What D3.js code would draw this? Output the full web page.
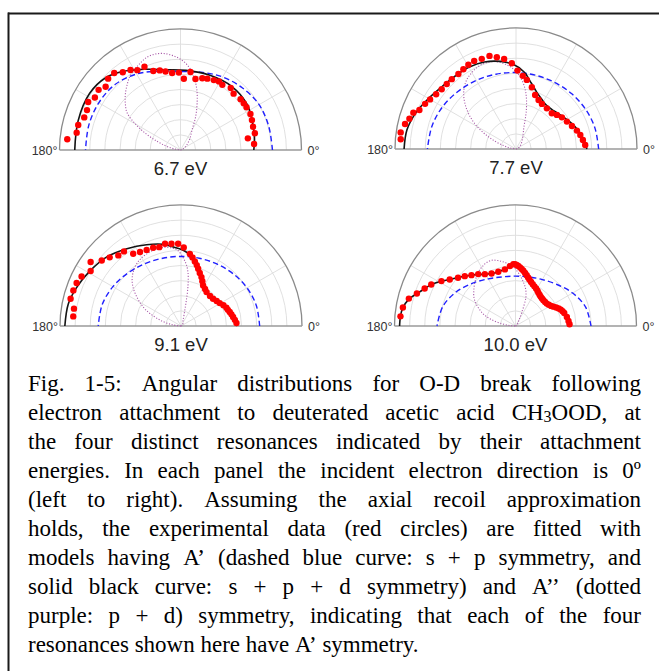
<!DOCTYPE html>
<html>
<head>
<meta charset="utf-8">
<script src="https://cdn.jsdelivr.net/npm/d3@7"></script>
<style>
  html, body { margin: 0; padding: 0; background: #fff; }
  svg { display: block; }
</style>
</head>
<body>
<svg id="fig" width="659" height="671"></svg>
<script>
// ---- angular distributions: [angle in degrees, relative intensity] ----
const energies = ["6.7 eV", "7.7 eV", "9.1 eV", "10.0 eV"];

const dots67 = [[4.7,0.61],[9.8,0.565],[12.7,0.63],[17.8,0.63],[22.7,0.64],[27.2,0.65],[32.9,0.65],[36.4,0.65],[40.2,0.65],[46.7,0.64],[51,0.66],[57.3,0.64],[60.7,0.65],[64.5,0.64],[69.4,0.63],[73.1,0.62],[78.1,0.6],[82.7,0.65],[87.3,0.59],[91.2,0.64],[96.2,0.64],[100.8,0.66],[104.6,0.68],[109,0.69],[113.4,0.75],[118.4,0.75],[122,0.78],[126.6,0.8],[130.7,0.84],[135.4,0.84],[139.8,0.81],[143.7,0.84],[148.5,0.83],[152.5,0.86],[156.9,0.84],[161.3,0.84],[166.3,0.87],[170.5,0.87],[174.6,0.94]];
const black67 = [[0,0.606],[10,0.62],[23,0.642],[35,0.668],[51,0.675],[69,0.663],[86,0.66],[100,0.674],[114,0.73],[127,0.81],[136,0.86],[148,0.885],[164,0.88],[180,0.874]];
const blue67 = [[0,0.76],[15,0.755],[30,0.75],[45,0.725],[60,0.697],[75,0.665],[90,0.648],[105,0.675],[120,0.725],[135,0.765],[150,0.78],[165,0.785],[180,0.785]];
const purple67 = [[0,0],[10,0.01],[20,0.02],[30,0.04],[40,0.07],[50,0.12],[60,0.19],[65,0.29],[70,0.4],[75,0.52],[80,0.62],[85,0.7],[90,0.75],[95,0.785],[100,0.81],[105,0.82],[110,0.815],[115,0.79],[120,0.765],[125,0.735],[130,0.69],[135,0.645],[140,0.595],[145,0.54],[150,0.43],[155,0.31],[160,0.2],[165,0.12],[170,0.05],[180,0]];

const dots77 = [[3.3,0.573],[7.7,0.558],[12.3,0.544],[16.8,0.526],[22.4,0.5],[28.3,0.478],[34.6,0.461],[39.8,0.44],[44.9,0.418],[52.8,0.422],[60.1,0.43],[65.3,0.446],[70.5,0.474],[75.6,0.527],[81.1,0.578],[84.7,0.607],[88.9,0.648],[92.8,0.71],[97.5,0.751],[101.8,0.775],[105.9,0.8],[110.8,0.797],[115.4,0.806],[119.5,0.8],[123.4,0.79],[127.5,0.782],[132.6,0.784],[136.8,0.785],[141.2,0.788],[145.6,0.8],[150,0.82],[153.6,0.839],[158,0.861],[160.5,0.9],[164.1,0.916],[167.3,0.94],[171.8,0.963],[175.2,0.956]];
const black77 = [[0,0.586],[8,0.565],[17,0.535],[25,0.505],[35,0.47],[45,0.445],[55,0.44],[62,0.46],[70,0.5],[77,0.56],[84,0.64],[92,0.7],[100,0.735],[110,0.765],[120,0.78],[130,0.785],[140,0.8],[150,0.835],[160,0.88],[170,0.915],[180,0.925]];
const blue77 = [[0,0.683],[15,0.675],[30,0.662],[45,0.648],[60,0.636],[75,0.631],[90,0.632],[105,0.64],[120,0.655],[135,0.675],[150,0.7],[165,0.72],[180,0.732]];
const purple77 = [[0,0],[20,0.02],[40,0.05],[55,0.09],[65,0.14],[70,0.19],[75,0.33],[80,0.47],[85,0.57],[90,0.64],[95,0.69],[100,0.725],[105,0.748],[110,0.755],[115,0.748],[120,0.73],[125,0.705],[130,0.665],[135,0.61],[140,0.54],[145,0.46],[150,0.37],[155,0.27],[160,0.18],[165,0.1],[170,0.05],[180,0]];

const dots91 = [[3.1,0.459],[6.5,0.448],[9.8,0.437],[13,0.428],[16,0.419],[19,0.41],[22,0.405],[26,0.39],[30.6,0.372],[35,0.36],[40.4,0.348],[46,0.345],[53,0.351],[57,0.365],[61.4,0.382],[64.5,0.41],[67.3,0.438],[70.5,0.465],[73.3,0.494],[75.5,0.52],[77.9,0.546],[80.5,0.575],[83,0.6],[88,0.65],[92,0.68],[96.6,0.684],[101,0.692],[105.4,0.676],[109.6,0.686],[114.3,0.69],[119,0.699],[123.5,0.716],[127.4,0.776],[131.6,0.78],[136.1,0.818],[140.4,0.85],[144.7,0.915],[148.7,0.874],[153.5,0.918],[157.6,0.933],[161.7,0.937],[166.1,0.94],[170.8,0.896],[174.9,0.894]];
const black91 = [[0,0.462],[10,0.437],[20,0.41],[30,0.376],[40,0.352],[50,0.348],[57,0.366],[63,0.4],[68,0.445],[73,0.493],[78,0.546],[83,0.595],[88,0.625],[93,0.645],[102,0.69],[113,0.73],[125,0.78],[137,0.838],[149,0.88],[160,0.92],[169,0.949],[180,0.96]];
const blue91 = [[0,0.65],[15,0.645],[30,0.63],[45,0.61],[60,0.592],[75,0.58],[90,0.575],[105,0.58],[120,0.595],[135,0.62],[150,0.65],[165,0.675],[180,0.684]];
const purple91 = [[0,0],[20,0.01],[40,0.02],[60,0.03],[70,0.05],[75,0.1],[78,0.2],[80,0.33],[83,0.46],[87,0.545],[93,0.63],[100,0.66],[107,0.668],[115,0.66],[122,0.645],[128,0.618],[135,0.57],[141,0.51],[148,0.42],[154,0.34],[158,0.277],[165,0.17],[172,0.07],[180,0]];

const dots100 = [[1.8,0.447],[5.4,0.44],[10,0.431],[15,0.417],[17.5,0.408],[19.9,0.398],[22,0.385],[24.4,0.369],[27,0.352],[29.4,0.338],[32.5,0.326],[35.6,0.318],[39,0.315],[42.7,0.314],[46,0.316],[49,0.319],[52,0.325],[55.3,0.333],[58,0.343],[61.2,0.353],[64.5,0.363],[67.6,0.374],[70.5,0.386],[73.4,0.401],[75.5,0.415],[77.6,0.43],[79.8,0.446],[81.9,0.461],[83.8,0.474],[85.6,0.486],[87.3,0.496],[88.9,0.504],[90.5,0.51],[92,0.512],[95.3,0.497],[100.6,0.476],[107.6,0.47],[114.5,0.477],[120.6,0.498],[125.7,0.528],[130.9,0.556],[135.5,0.588],[140,0.62],[144.7,0.666],[148.8,0.716],[153.8,0.776],[157.6,0.812],[161.8,0.858],[165.6,0.91],[170.7,0.943],[175.2,0.954]];
const black100 = [[0,0.447],[5,0.44],[10,0.43],[15,0.415],[20,0.396],[25,0.366],[30,0.337],[36,0.318],[43,0.312],[50,0.318],[56,0.333],[62,0.353],[68,0.374],[74,0.403],[78,0.432],[82,0.462],[86,0.488],[89,0.504],[92,0.51],[96,0.495],[101,0.478],[108,0.47],[115,0.478],[121,0.498],[126,0.527],[131,0.556],[136,0.591],[140,0.622],[145,0.668],[149,0.717],[154,0.777],[158,0.815],[162,0.86],[166,0.91],[171,0.944],[175,0.954],[180,0.958]];
const blue100 = [[0,0.624],[15,0.6],[30,0.545],[45,0.485],[60,0.443],[75,0.42],[90,0.412],[105,0.42],[120,0.45],[135,0.5],[150,0.565],[165,0.622],[180,0.649]];
const purple100 = [[0,0],[30,0.01],[50,0.03],[60,0.06],[65,0.12],[70,0.25],[75,0.32],[80,0.37],[85,0.42],[90,0.47],[95,0.51],[100,0.535],[105,0.56],[110,0.578],[115,0.575],[120,0.56],[125,0.54],[130,0.51],[135,0.48],[140,0.45],[145,0.42],[150,0.38],[155,0.33],[160,0.28],[165,0.21],[170,0.12],[175,0.05],[180,0]];

const ringLevels = [0.125, 0.25, 0.375, 0.5, 0.625, 0.75, 0.875];
const spokeAngles = [30, 60, 90, 120, 150];
const angleTicks = [{deg: 180, label: "180°"}, {deg: 0, label: "0°"}];

const captionLines = [
  "Fig. 1-5: Angular distributions for O-D break following",
  "electron attachment to deuterated acetic acid CH_3OOD, at",
  "the four distinct resonances indicated by their attachment",
  "energies. In each panel the incident electron direction is 0º",
  "(left to right). Assuming the axial recoil approximation",
  "holds, the experimental data (red circles) are fitted with",
  "models having A’ (dashed blue curve: s + p symmetry, and",
  "solid black curve: s + p + d symmetry) and A’’ (dotted",
  "purple: p + d) symmetry, indicating that each of the four",
  "resonances shown here have A’ symmetry."
];

const panels = [
  {label: energies[0], cx: 180.5, cy: 150, dots: dots67, black: black67, blue: blue67, purple: purple67},
  {label: energies[1], cx: 516, cy: 149, dots: dots77, black: black77, blue: blue77, purple: purple77},
  {label: energies[2], cx: 181, cy: 326, dots: dots91, black: black91, blue: blue91, purple: purple91},
  {label: energies[3], cx: 515.5, cy: 326, dots: dots100, black: black100, blue: blue100, purple: purple100}
];

const R = 121;
const svg = d3.select("#fig");
const rad = d => d * Math.PI / 180;

// frame
svg.append("line").attr("x1", 8).attr("x2", 659).attr("y1", 13.5).attr("y2", 13.5)
  .attr("stroke", "#1a1a1a").attr("stroke-width", 2);
svg.append("line").attr("x1", 8.5).attr("x2", 8.5).attr("y1", 12.5).attr("y2", 671)
  .attr("stroke", "#1a1a1a").attr("stroke-width", 2);

const r = d3.scaleLinear().domain([0, 1]).range([0, R]);
const radial = d3.lineRadial()
  .angle(d => rad(90 - d[0]))
  .radius(d => r(d[1]))
  .curve(d3.curveCatmullRom.alpha(0.5));

function semicircle(rr) {
  const p = d3.path();
  p.moveTo(rr, 0);
  p.arc(0, 0, rr, 0, -Math.PI, true);
  return p.toString();
}

panels.forEach(pn => {
  const g = svg.append("g").attr("transform", `translate(${pn.cx},${pn.cy})`);

  // grid rings and spokes
  g.selectAll(".ring").data(ringLevels).join("path")
    .attr("d", d => semicircle(r(d)))
    .attr("fill", "none").attr("stroke", "#dcdcdc").attr("stroke-width", 0.9);
  g.selectAll(".spoke").data(spokeAngles).join("line")
    .attr("x1", 0).attr("y1", 0)
    .attr("x2", d => r(1) * Math.cos(rad(d)))
    .attr("y2", d => -r(1) * Math.sin(rad(d)))
    .attr("stroke", "#dcdcdc").attr("stroke-width", 0.9);
  g.append("path").attr("d", semicircle(r(1)))
    .attr("fill", "none").attr("stroke", "#8a8a8a").attr("stroke-width", 1.3);
  g.append("line").attr("x1", -r(1)).attr("x2", r(1)).attr("y1", 0).attr("y2", 0)
    .attr("stroke", "#9a9a9a").attr("stroke-width", 1.3);

  // model curves
  g.append("path").attr("d", radial(pn.purple))
    .attr("fill", "none").attr("stroke", "#a85aa8").attr("stroke-width", 1.1)
    .attr("stroke-dasharray", "1.1,1.7");
  g.append("path").attr("d", radial(pn.blue))
    .attr("fill", "none").attr("stroke", "#2020ff").attr("stroke-width", 1.4)
    .attr("stroke-dasharray", "5.5,3.2");

  g.append("path").attr("d", radial(pn.black))
    .attr("fill", "none").attr("stroke", "#141414").attr("stroke-width", 1.6);

  // measured points
  g.selectAll(".pt").data(pn.dots).join("circle")
    .attr("cx", d => r(d[1]) * Math.cos(rad(d[0])))
    .attr("cy", d => -r(d[1]) * Math.sin(rad(d[0])))
    .attr("r", 3.2).attr("fill", "#ff0000");

  // angle labels
  g.selectAll(".tick").data(angleTicks).join("text")
    .attr("x", d => d.deg === 0 ? r(1) + 6 : -r(1) - 2)
    .attr("y", 4.5)
    .attr("text-anchor", d => d.deg === 0 ? "start" : "end")
    .attr("font-family", "Liberation Sans, Arial, sans-serif")
    .attr("font-size", 12.5)
    .attr("fill", "#333")
    .text(d => d.label);

  g.append("text").attr("x", 0).attr("y", 25)
    .attr("text-anchor", "middle")
    .attr("font-family", "Liberation Sans, Arial, sans-serif")
    .attr("font-size", 18.5).attr("fill", "#222")
    .text(pn.label);
});

// caption, justified between two margins
const capLeft = 28, capRight = 641, capTop = 391, capLead = 29;
const cap = svg.append("g")
  .attr("font-family", "Liberation Serif, 'Times New Roman', serif")
  .attr("font-size", 23).attr("fill", "#000");

const probe = cap.append("text").attr("y", -100);
const spaceWidth = probe.text("a a").node().getComputedTextLength()
  - 2 * probe.text("a").node().getComputedTextLength();
probe.remove();

captionLines.forEach((line, i) => {
  const y = capTop + i * capLead;
  const words = line.split(" ");
  const nodes = words.map(w => {
    const t = cap.append("text").attr("y", y);
    if (w.includes("_")) {
      const [a, rest] = w.split("_");
      t.append("tspan").text(a);
      t.append("tspan").attr("font-size", 16).attr("dy", 2).text(rest[0]);
      t.append("tspan").attr("dy", -2).text(rest.slice(1));
    } else {
      t.text(w);
    }
    return t;
  });
  const widths = nodes.map(n => n.node().getComputedTextLength());
  const total = d3.sum(widths);
  const last = i === captionLines.length - 1;
  const gap = last ? spaceWidth : (capRight - capLeft - total) / (words.length - 1);
  let x = capLeft;
  nodes.forEach((n, j) => { n.attr("x", x); x += widths[j] + gap; });
});
</script>
</body>
</html>
